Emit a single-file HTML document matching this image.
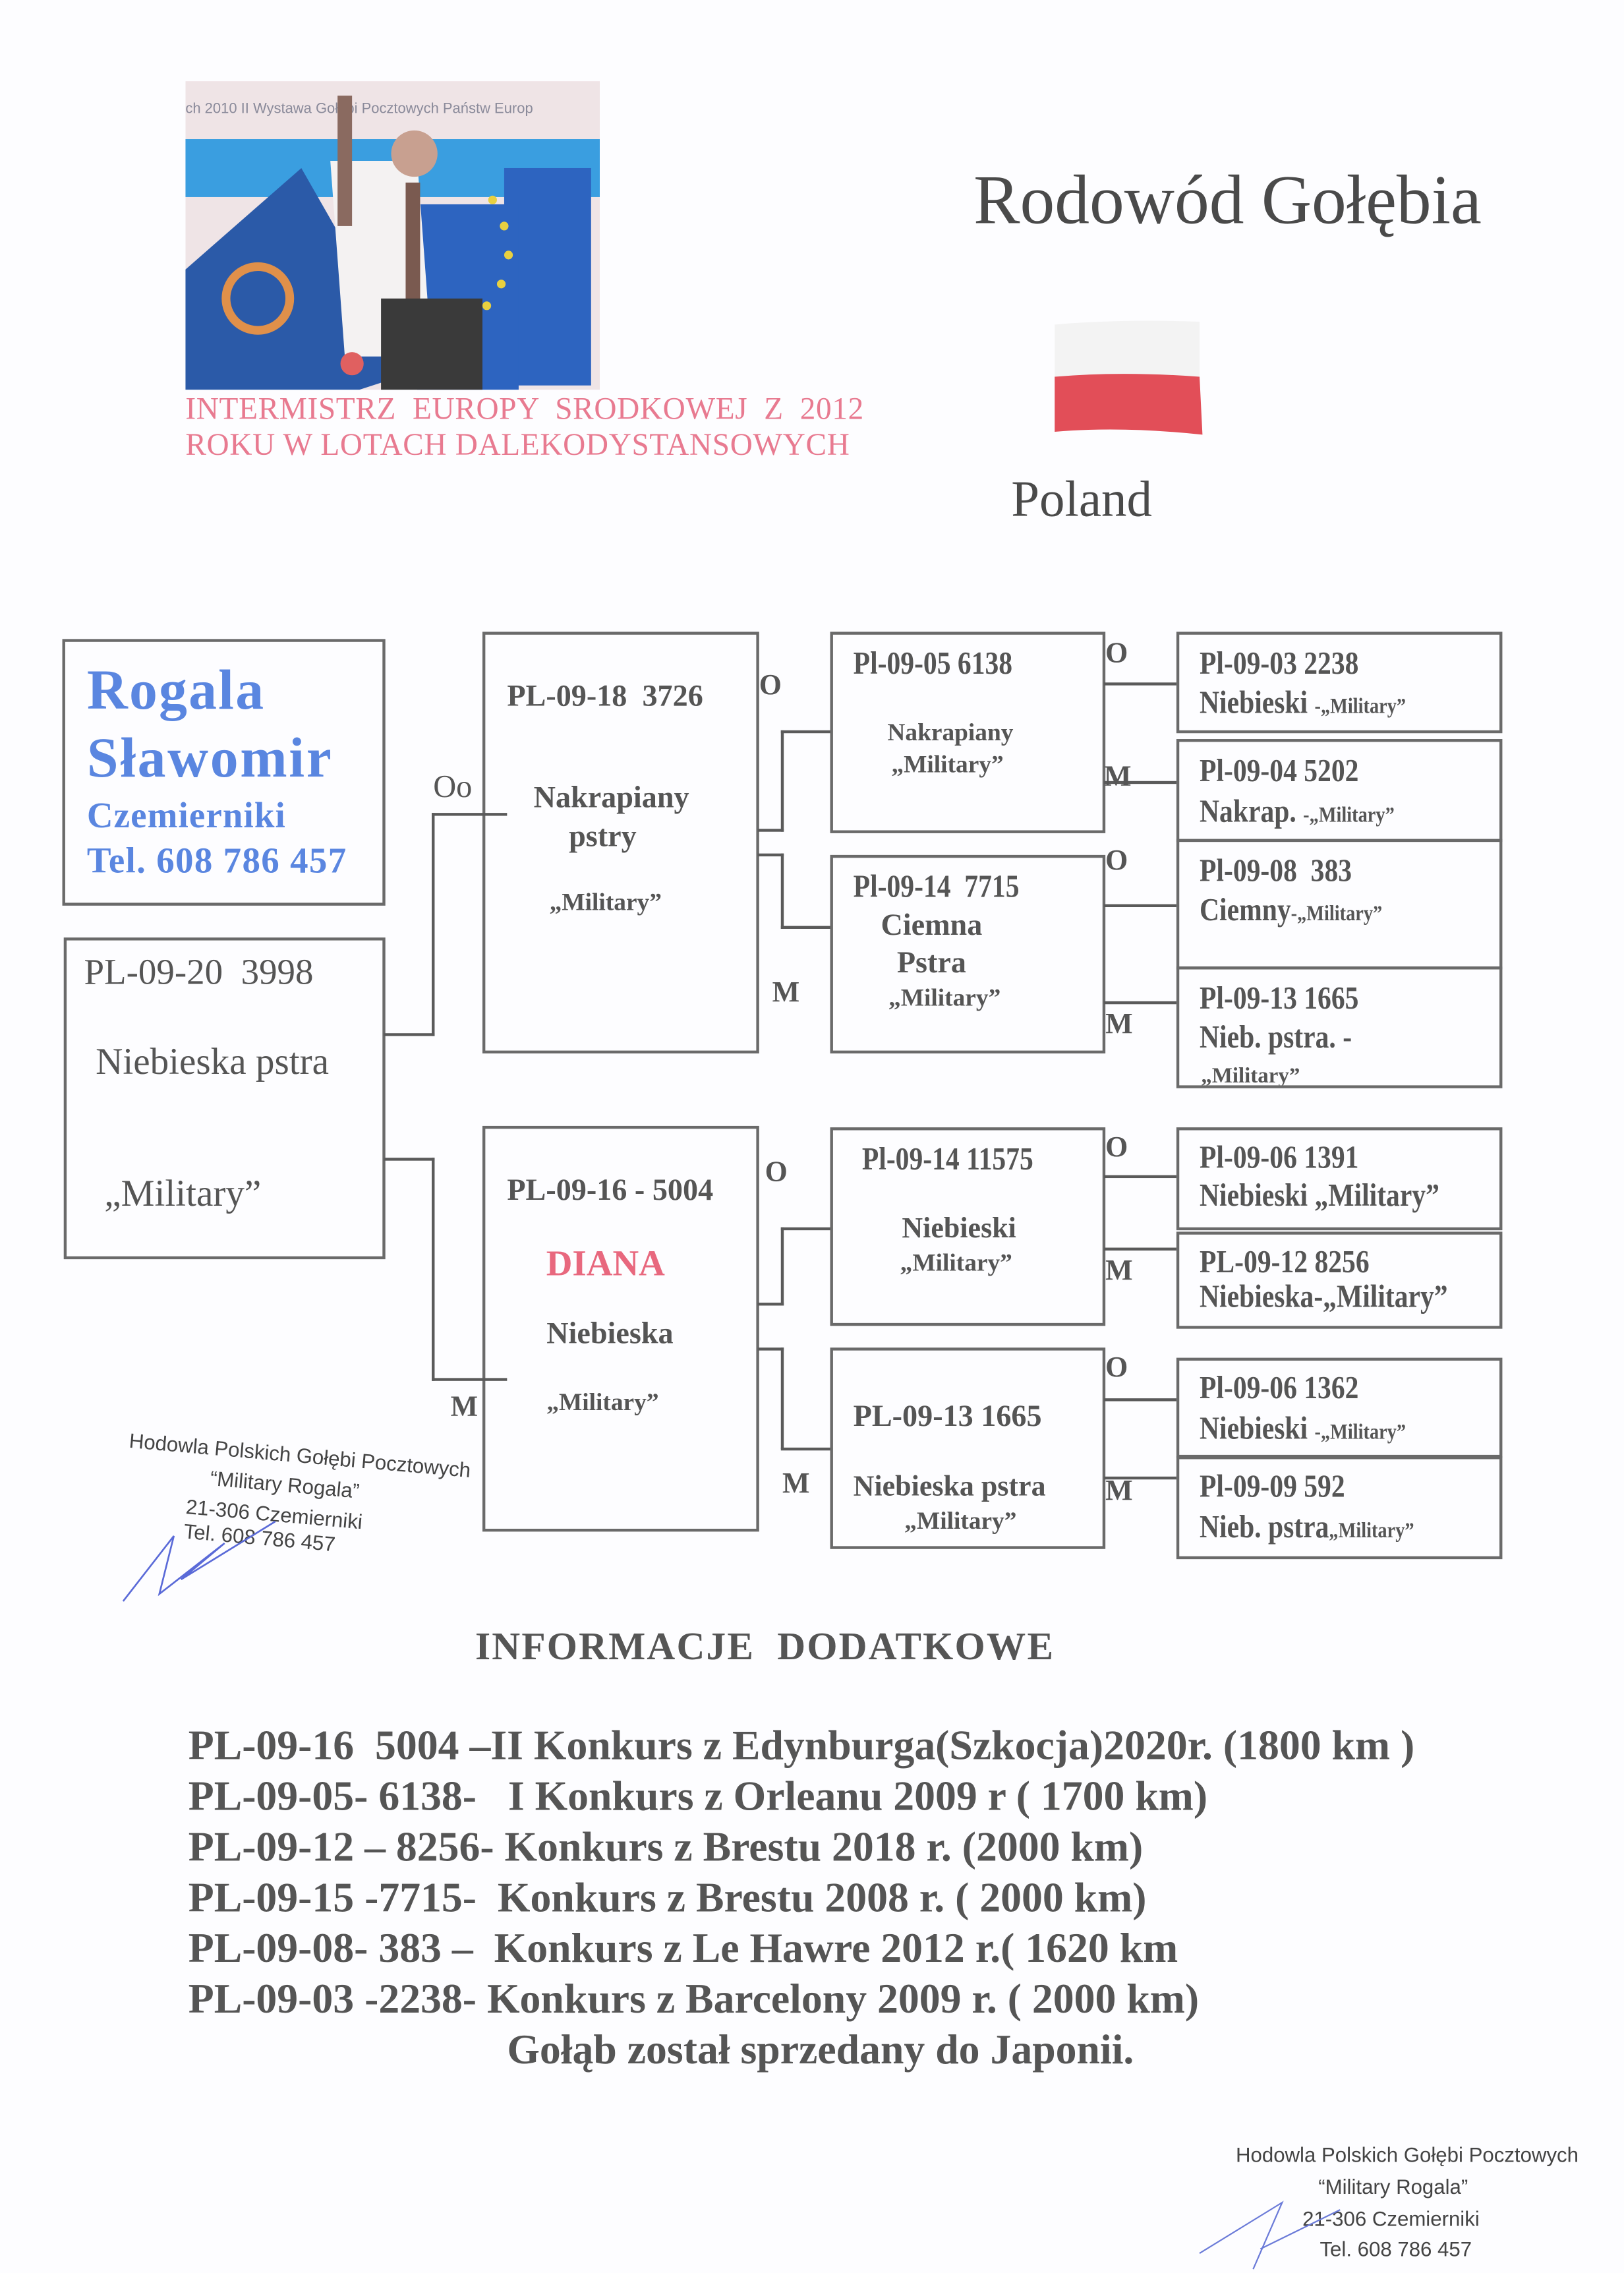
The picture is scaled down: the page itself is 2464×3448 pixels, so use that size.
<!DOCTYPE html>
<html><head><meta charset="utf-8"><style>
html,body{margin:0;padding:0;background:#fdfdff;}
#w{position:relative;width:1121px;height:1568px;transform:scale(2.1981);transform-origin:0 0;overflow:hidden;font-family:"Liberation Serif",serif;color:#555;}
.a{position:absolute;white-space:pre;line-height:1;}
.b{font-weight:bold;}
.c{transform:translateX(-50%);}
.box{position:absolute;border:2px solid #6a6a6a;box-sizing:border-box;}
.n{display:inline-block;transform:scaleX(.86);transform-origin:0 0;font-weight:bold;font-size:22px;white-space:pre;}
.s{font-size:15px;}
.L{position:absolute;background:#5a5a5a;}
.lb{position:absolute;font-weight:bold;font-size:20px;line-height:1;color:#555;}
.ft{position:absolute;left:130px;font-weight:bold;font-size:29px;line-height:1;color:#555;white-space:pre;}
.st{font-family:"Liberation Sans",sans-serif;color:#444;font-size:14.2px;}
</style></head><body><div id="w">

<svg style="position:absolute;left:128px;top:56px" width="286" height="213" viewBox="0 0 286 213">
<rect width="286" height="213" fill="#efe4e6"/>
<text x="0" y="22" font-family="Liberation Sans" font-size="10" fill="#8a8a9a">ch 2010  II Wystawa Gołębi Pocztowych Państw Europ</text>
<rect x="0" y="40" width="286" height="40" fill="#3a9ee0"/>
<rect x="220" y="60" width="60" height="150" fill="#2d64c0"/>
<rect x="160" y="85" width="70" height="128" fill="#2d64c0"/>
<polygon points="0,130 80,60 160,200 120,213 0,213" fill="#2b5aa8"/>
<circle cx="50" cy="150" r="22" fill="none" stroke="#e0904a" stroke-width="6"/>
<polygon points="100,55 160,55 170,190 110,190" fill="#f4f2f2"/>
<rect x="105" y="10" width="10" height="90" fill="#8a6a60"/>
<circle cx="158" cy="50" r="16" fill="#c8a090"/>
<rect x="152" y="70" width="10" height="100" fill="#7a5a50"/>
<rect x="135" y="150" width="70" height="63" fill="#3a3a3a"/>
<g fill="#e8d040"><circle cx="212" cy="82" r="3"/><circle cx="220" cy="100" r="3"/><circle cx="223" cy="120" r="3"/><circle cx="218" cy="140" r="3"/><circle cx="208" cy="155" r="3"/></g>
<circle cx="115" cy="195" r="8" fill="#e06060"/>
</svg>

<div class="a" style="left:672px;top:115px;font-size:48px;color:#4a4a4a">Rodowód Gołębia</div>
<svg style="position:absolute;left:724px;top:220px" width="110" height="85"><path d="M4,4 Q50,0 104,2 L104,44 Q50,40 4,44Z" fill="#f3f3f3"/><path d="M4,40 Q50,36 104,40 L106,80 Q50,74 4,78Z" fill="#e24e58"/></svg>
<div class="a" style="left:698px;top:327px;font-size:35px;color:#4a4a4a">Poland</div>
<div class="a" style="left:128px;top:272px;font-size:21.5px;color:#e87a90;letter-spacing:0.3px">INTERMISTRZ  EUROPY  SRODKOWEJ  Z  2012</div>
<div class="a" style="left:128px;top:297px;font-size:21.5px;color:#e87a90;letter-spacing:0.3px">ROKU W LOTACH DALEKODYSTANSOWYCH</div>

<!-- boxes -->
<div class="box" style="left:43px;top:441px;width:223px;height:184px"></div>
<div class="box" style="left:44px;top:647px;width:222px;height:222px"></div>
<div class="box" style="left:333px;top:436px;width:191px;height:291px"></div>
<div class="box" style="left:333px;top:777px;width:191px;height:280px"></div>
<div class="box" style="left:573px;top:436px;width:190px;height:139px"></div>
<div class="box" style="left:573px;top:590px;width:190px;height:137px"></div>
<div class="box" style="left:573px;top:778px;width:190px;height:137px"></div>
<div class="box" style="left:573px;top:930px;width:190px;height:139px"></div>
<div class="box" style="left:812px;top:436px;width:225px;height:70px"></div>
<div class="box" style="left:812px;top:510px;width:225px;height:71px"></div>
<div class="box" style="left:812px;top:579px;width:225px;height:90px"></div>
<div class="box" style="left:812px;top:667px;width:225px;height:84px;overflow:hidden"><div class="a b" style="left:15px;top:67px;font-size:15px">„Military”</div></div>
<div class="box" style="left:812px;top:778px;width:225px;height:71px"></div>
<div class="box" style="left:812px;top:850px;width:225px;height:67px"></div>
<div class="box" style="left:812px;top:937px;width:225px;height:69px"></div>
<div class="box" style="left:812px;top:1005px;width:225px;height:71px"></div>

<!-- connectors -->
<div class="L" style="left:265px;top:713px;width:35px;height:2px"></div>
<div class="L" style="left:298px;top:561px;width:2px;height:154px"></div>
<div class="L" style="left:298px;top:561px;width:52px;height:2px"></div>
<div class="L" style="left:265px;top:799px;width:35px;height:2px"></div>
<div class="L" style="left:298px;top:799px;width:2px;height:154px"></div>
<div class="L" style="left:298px;top:951px;width:52px;height:2px"></div>

<div class="L" style="left:523px;top:572px;width:18px;height:2px"></div>
<div class="L" style="left:539px;top:504px;width:2px;height:70px"></div>
<div class="L" style="left:539px;top:504px;width:34px;height:2px"></div>
<div class="L" style="left:523px;top:589px;width:18px;height:2px"></div>
<div class="L" style="left:539px;top:589px;width:2px;height:52px"></div>
<div class="L" style="left:539px;top:639px;width:34px;height:2px"></div>

<div class="L" style="left:523px;top:899px;width:18px;height:2px"></div>
<div class="L" style="left:539px;top:847px;width:2px;height:54px"></div>
<div class="L" style="left:539px;top:847px;width:34px;height:2px"></div>
<div class="L" style="left:523px;top:930px;width:18px;height:2px"></div>
<div class="L" style="left:539px;top:930px;width:2px;height:70px"></div>
<div class="L" style="left:539px;top:999px;width:34px;height:2px"></div>

<div class="L" style="left:762px;top:471px;width:50px;height:2px"></div>
<div class="L" style="left:762px;top:539px;width:50px;height:2px"></div>
<div class="L" style="left:762px;top:624px;width:50px;height:2px"></div>
<div class="L" style="left:762px;top:691px;width:50px;height:2px"></div>
<div class="L" style="left:762px;top:811px;width:50px;height:2px"></div>
<div class="L" style="left:762px;top:861px;width:50px;height:2px"></div>
<div class="L" style="left:762px;top:965px;width:50px;height:2px"></div>
<div class="L" style="left:762px;top:1019px;width:50px;height:2px"></div>

<!-- labels -->
<div class="lb" style="left:299px;top:532px;font-weight:normal;font-size:22px">Oo</div>
<div class="lb" style="left:311px;top:961px">M</div>
<div class="lb" style="left:524px;top:463px">O</div>
<div class="lb" style="left:533px;top:675px">M</div>
<div class="lb" style="left:528px;top:799px">O</div>
<div class="lb" style="left:540px;top:1014px">M</div>
<div class="lb" style="left:763px;top:441px">O</div>
<div class="lb" style="left:762px;top:526px">M</div>
<div class="lb" style="left:763px;top:584px">O</div>
<div class="lb" style="left:763px;top:697px">M</div>
<div class="lb" style="left:763px;top:782px">O</div>
<div class="lb" style="left:763px;top:867px">M</div>
<div class="lb" style="left:763px;top:934px">O</div>
<div class="lb" style="left:763px;top:1019px">M</div>

<!-- box1 -->
<div class="a b" style="left:60px;top:457px;font-size:39px;color:#5a86e0;letter-spacing:1px">Rogala</div>
<div class="a b" style="left:60px;top:504px;font-size:39px;color:#5a86e0;letter-spacing:1.2px">Sławomir</div>
<div class="a b" style="left:60px;top:551px;font-size:25px;color:#5a86e0;letter-spacing:0.5px">Czemierniki</div>
<div class="a b" style="left:60px;top:582px;font-size:25px;color:#5a86e0;letter-spacing:0.6px">Tel. 608 786 457</div>
<!-- box2 -->
<div class="a" style="left:58px;top:659px;font-size:25px">PL-09-20  3998</div>
<div class="a" style="left:66px;top:720px;font-size:26px">Niebieska pstra</div>
<div class="a" style="left:72px;top:811px;font-size:26px">„Military”</div>
<!-- box3 -->
<div class="a b" style="left:350px;top:470px;font-size:21px">PL-09-18  3726</div>
<div class="a b c" style="left:422px;top:540px;font-size:21px">Nakrapiany</div>
<div class="a b c" style="left:416px;top:567px;font-size:21px">pstry</div>
<div class="a b c" style="left:418px;top:614px;font-size:17px">„Military”</div>
<!-- box4 -->
<div class="a b" style="left:350px;top:811px;font-size:21px">PL-09-16 - 5004</div>
<div class="a b c" style="left:418px;top:860px;font-size:25px;color:#e8687e">DIANA</div>
<div class="a b c" style="left:421px;top:910px;font-size:21px">Niebieska</div>
<div class="a b c" style="left:416px;top:959px;font-size:17px">„Military”</div>
<!-- gen3 -->
<div class="a" style="left:589px;top:447px"><span class="n">Pl-09-05 6138</span></div>
<div class="a b c" style="left:656px;top:497px;font-size:17px">Nakrapiany</div>
<div class="a b c" style="left:654px;top:519px;font-size:17px">„Military”</div>
<div class="a" style="left:589px;top:601px"><span class="n">Pl-09-14  7715</span></div>
<div class="a b c" style="left:643px;top:628px;font-size:21px">Ciemna</div>
<div class="a b c" style="left:643px;top:654px;font-size:21px">Pstra</div>
<div class="a b c" style="left:652px;top:680px;font-size:17px">„Military”</div>
<div class="a" style="left:595px;top:789px"><span class="n">Pl-09-14 11575</span></div>
<div class="a b c" style="left:662px;top:838px;font-size:20px">Niebieski</div>
<div class="a b c" style="left:660px;top:863px;font-size:17px">„Military”</div>
<div class="a b" style="left:589px;top:967px;font-size:21px">PL-09-13 1665</div>
<div class="a b" style="left:589px;top:1016px;font-size:20px">Niebieska pstra</div>
<div class="a b c" style="left:663px;top:1041px;font-size:17px">„Military”</div>
<!-- gen4 -->
<div class="a" style="left:828px;top:447px"><span class="n">Pl-09-03 2238</span></div>
<div class="a" style="left:828px;top:474px"><span class="n">Niebieski <span class="s">-„Military”</span></span></div>
<div class="a" style="left:828px;top:521px"><span class="n">Pl-09-04 5202</span></div>
<div class="a" style="left:828px;top:549px"><span class="n">Nakrap. <span class="s">-„Military”</span></span></div>
<div class="a" style="left:828px;top:590px"><span class="n">Pl-09-08  383</span></div>
<div class="a" style="left:828px;top:617px"><span class="n">Ciemny<span class="s">-„Military”</span></span></div>
<div class="a" style="left:828px;top:678px"><span class="n">Pl-09-13 1665</span></div>
<div class="a" style="left:828px;top:705px"><span class="n">Nieb. pstra. -</span></div>
<div class="a" style="left:828px;top:788px"><span class="n">Pl-09-06 1391</span></div>
<div class="a" style="left:828px;top:814px"><span class="n">Niebieski „Military”</span></div>
<div class="a" style="left:828px;top:860px"><span class="n">PL-09-12 8256</span></div>
<div class="a" style="left:828px;top:884px"><span class="n">Niebieska-„Military”</span></div>
<div class="a" style="left:828px;top:947px"><span class="n">Pl-09-06 1362</span></div>
<div class="a" style="left:828px;top:975px"><span class="n">Niebieski <span class="s">-„Military”</span></span></div>
<div class="a" style="left:828px;top:1015px"><span class="n">Pl-09-09 592</span></div>
<div class="a" style="left:828px;top:1043px"><span class="n">Nieb. pstra<span class="s">„Military”</span></span></div>

<!-- left stamp -->
<div style="position:absolute;left:90px;top:985px;transform:rotate(5deg);transform-origin:0 0;line-height:21px;white-space:nowrap" class="st">
<div>Hodowla Polskich Gołębi Pocztowych</div>
<div style="padding-left:58px">“Military Rogala”</div>
<div style="padding-left:43px">21-306 Czemierniki</div>
<div style="padding-left:43px;margin-top:-4px">Tel. 608 786 457</div>
</div>
<svg style="position:absolute;left:80px;top:1030px" width="120" height="80"><path d="M5,75 L40,30 L30,70 L75,35 L45,60 L110,20" fill="none" stroke="#5a6ad8" stroke-width="1.2"/></svg>

<!-- footer -->
<div class="a b" style="left:328px;top:1123px;font-size:27px;letter-spacing:1px">INFORMACJE  DODATKOWE</div>
<div class="ft" style="top:1191px">PL-09-16  5004 –II Konkurs z Edynburga(Szkocja)2020r. (1800 km )</div>
<div class="ft" style="top:1226px">PL-09-05- 6138-   I Konkurs z Orleanu 2009 r ( 1700 km)</div>
<div class="ft" style="top:1261px">PL-09-12 – 8256- Konkurs z Brestu 2018 r. (2000 km)</div>
<div class="ft" style="top:1296px">PL-09-15 -7715-  Konkurs z Brestu 2008 r. ( 2000 km)</div>
<div class="ft" style="top:1331px">PL-09-08- 383 –  Konkurs z Le Hawre 2012 r.( 1620 km</div>
<div class="ft" style="top:1366px">PL-09-03 -2238- Konkurs z Barcelony 2009 r. ( 2000 km)</div>
<div class="ft" style="top:1401px;left:350px">Gołąb został sprzedany do Japonii.</div>

<!-- right stamp -->
<div class="a st" style="left:853px;top:1481px">Hodowla Polskich Gołębi Pocztowych</div>
<div class="a st" style="left:910px;top:1503px">“Military Rogala”</div>
<div class="a st" style="left:899px;top:1525px">21-306 Czemierniki</div>
<div class="a st" style="left:911px;top:1546px">Tel. 608 786 457</div>
<svg style="position:absolute;left:825px;top:1500px" width="110" height="68"><path d="M3,55 L60,20 L40,66 M45,52 L100,25" fill="none" stroke="#6a7ad8" stroke-width="1"/></svg>
</div></body></html>
